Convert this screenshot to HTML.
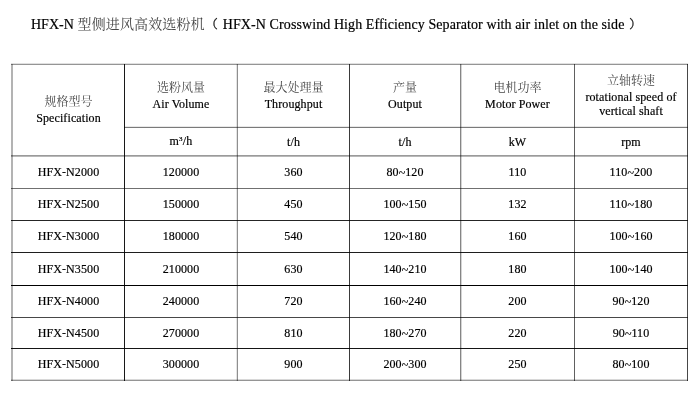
<!DOCTYPE html>
<html><head><meta charset="utf-8"><title>HFX-N</title>
<style>
html,body{margin:0;padding:0;background:#fff;}
body{width:700px;height:401px;position:relative;overflow:hidden;-webkit-text-stroke:0.18px #000;font-family:"Liberation Serif","Noto Serif CJK SC",serif;color:#000;}
.t{position:absolute;left:0;top:0;white-space:nowrap;font-size:14px;line-height:16px;}
.h,.v{position:absolute;mix-blend-mode:multiply;}
.c{position:absolute;display:flex;flex-direction:column;align-items:center;justify-content:center;font-size:12px;line-height:14px;text-align:center;letter-spacing:0.1px;}
.cj{font-family:"Noto Serif CJK SC",serif;color:#484848;font-weight:400;-webkit-text-stroke:0;}
.cc{font-family:"Noto Serif CJK SC",serif;color:#484848;font-size:12px;line-height:12px;height:12px;margin-bottom:4px;-webkit-text-stroke:0;letter-spacing:0;}
.t .cj{font-size:14px;}
.tl{position:relative;top:0.8px;}
</style></head><body>
<div class="t" style="left:31px;top:17px">HFX-N</div>
<div class="t cj" style="left:77.6px;top:15px;letter-spacing:0.12px">型侧进风高效选粉机</div>
<div class="t cj" style="left:205.8px;top:15.5px;font-size:12px;color:#222;-webkit-text-stroke:0.35px #222">（</div>
<div class="t" style="left:222.8px;top:17px;letter-spacing:0.09px">HFX-N Crosswind High Efficiency Separator with air inlet on the side</div>
<div class="t cj" style="left:629.3px;top:15.5px;font-size:12px;color:#222;-webkit-text-stroke:0.35px #222">）</div>
<div class="h" style="left:11px;top:63px;width:677px;height:1px;background:#e0e0e0"></div>
<div class="h" style="left:11px;top:64px;width:677px;height:1px;background:#959595"></div>
<div class="h" style="left:125px;top:126px;width:563px;height:1px;background:#e8e8e8"></div>
<div class="h" style="left:124px;top:127px;width:564px;height:1px;background:#7a7a7a"></div>
<div class="h" style="left:11px;top:155px;width:677px;height:1px;background:#9a9a9a"></div>
<div class="h" style="left:11px;top:156px;width:677px;height:1px;background:#b8b8b8"></div>
<div class="h" style="left:11px;top:188px;width:677px;height:1px;background:#707070"></div>
<div class="h" style="left:11px;top:220px;width:677px;height:1px;background:#252525"></div>
<div class="h" style="left:11px;top:252px;width:677px;height:1px;background:#1e1e1e"></div>
<div class="h" style="left:11px;top:285px;width:677px;height:1px;background:#000000"></div>
<div class="h" style="left:11px;top:317px;width:677px;height:1px;background:#484848"></div>
<div class="h" style="left:11px;top:348px;width:677px;height:1px;background:#151515"></div>
<div class="h" style="left:11px;top:379px;width:677px;height:1px;background:#d8d8d8"></div>
<div class="h" style="left:11px;top:380px;width:677px;height:1px;background:#959595"></div>
<div class="v" style="left:11px;top:64px;width:1px;height:317px;background:#b3b3b3"></div>
<div class="v" style="left:12px;top:64px;width:1px;height:317px;background:#b3b3b3"></div>
<div class="v" style="left:124px;top:64px;width:1px;height:317px;background:#181818"></div>
<div class="v" style="left:236px;top:64px;width:1px;height:317px;background:#e4e4e4"></div>
<div class="v" style="left:237px;top:64px;width:1px;height:317px;background:#8f8f8f"></div>
<div class="v" style="left:349px;top:64px;width:1px;height:317px;background:#3a3a3a"></div>
<div class="v" style="left:460px;top:64px;width:1px;height:317px;background:#858585"></div>
<div class="v" style="left:461px;top:64px;width:1px;height:317px;background:#d4d4d4"></div>
<div class="v" style="left:574px;top:64px;width:1px;height:317px;background:#606060"></div>
<div class="v" style="left:687px;top:64px;width:1px;height:317px;background:#484848"></div>
<div class="c" style="left:13px;top:64.5px;width:111px;height:91.0px"><div class="cc">规格型号</div><div>Specification</div></div>
<div class="c" style="left:125px;top:64.5px;width:112px;height:62.5px"><div class="cc">选粉风量</div><div>Air Volume</div></div>
<div class="c" style="left:238px;top:64.5px;width:111px;height:62.5px"><div class="cc">最大处理量</div><div>Throughput</div></div>
<div class="c" style="left:350px;top:64.5px;width:110px;height:62.5px"><div class="cc">产量</div><div>Output</div></div>
<div class="c" style="left:461px;top:64.5px;width:113px;height:62.5px"><div class="cc">电机功率</div><div>Motor Power</div></div>
<div class="c" style="left:575px;top:64.5px;width:112px;height:62.5px"><div class="cc">立轴转速</div><div>rotational speed of</div><div>vertical shaft</div></div>
<div class="c" style="left:125px;top:127.5px;width:112px;height:28.0px"><div>m<span style="font-size:7px;position:relative;top:-3.6px;letter-spacing:0.3px">3</span>/h</div></div>
<div class="c" style="left:238px;top:127.5px;width:111px;height:28.0px"><div>t/h</div></div>
<div class="c" style="left:350px;top:127.5px;width:110px;height:28.0px"><div>t/h</div></div>
<div class="c" style="left:461px;top:127.5px;width:113px;height:28.0px"><div>kW</div></div>
<div class="c" style="left:575px;top:127.5px;width:112px;height:28.0px"><div>rpm</div></div>
<div class="c" style="left:13px;top:156.0px;width:111px;height:32.0px"><div>HFX-N2000</div></div>
<div class="c" style="left:125px;top:156.0px;width:112px;height:32.0px"><div>120000</div></div>
<div class="c" style="left:238px;top:156.0px;width:111px;height:32.0px"><div>360</div></div>
<div class="c" style="left:350px;top:156.0px;width:110px;height:32.0px"><div>80<span class="tl">~</span>120</div></div>
<div class="c" style="left:461px;top:156.0px;width:113px;height:32.0px"><div>110</div></div>
<div class="c" style="left:575px;top:156.0px;width:112px;height:32.0px"><div>110<span class="tl">~</span>200</div></div>
<div class="c" style="left:13px;top:188.5px;width:111px;height:31.5px"><div>HFX-N2500</div></div>
<div class="c" style="left:125px;top:188.5px;width:112px;height:31.5px"><div>150000</div></div>
<div class="c" style="left:238px;top:188.5px;width:111px;height:31.5px"><div>450</div></div>
<div class="c" style="left:350px;top:188.5px;width:110px;height:31.5px"><div>100<span class="tl">~</span>150</div></div>
<div class="c" style="left:461px;top:188.5px;width:113px;height:31.5px"><div>132</div></div>
<div class="c" style="left:575px;top:188.5px;width:112px;height:31.5px"><div>110<span class="tl">~</span>180</div></div>
<div class="c" style="left:13px;top:220.5px;width:111px;height:31.5px"><div>HFX-N3000</div></div>
<div class="c" style="left:125px;top:220.5px;width:112px;height:31.5px"><div>180000</div></div>
<div class="c" style="left:238px;top:220.5px;width:111px;height:31.5px"><div>540</div></div>
<div class="c" style="left:350px;top:220.5px;width:110px;height:31.5px"><div>120<span class="tl">~</span>180</div></div>
<div class="c" style="left:461px;top:220.5px;width:113px;height:31.5px"><div>160</div></div>
<div class="c" style="left:575px;top:220.5px;width:112px;height:31.5px"><div>100<span class="tl">~</span>160</div></div>
<div class="c" style="left:13px;top:252.5px;width:111px;height:32.5px"><div>HFX-N3500</div></div>
<div class="c" style="left:125px;top:252.5px;width:112px;height:32.5px"><div>210000</div></div>
<div class="c" style="left:238px;top:252.5px;width:111px;height:32.5px"><div>630</div></div>
<div class="c" style="left:350px;top:252.5px;width:110px;height:32.5px"><div>140<span class="tl">~</span>210</div></div>
<div class="c" style="left:461px;top:252.5px;width:113px;height:32.5px"><div>180</div></div>
<div class="c" style="left:575px;top:252.5px;width:112px;height:32.5px"><div>100<span class="tl">~</span>140</div></div>
<div class="c" style="left:13px;top:285.5px;width:111px;height:31.5px"><div>HFX-N4000</div></div>
<div class="c" style="left:125px;top:285.5px;width:112px;height:31.5px"><div>240000</div></div>
<div class="c" style="left:238px;top:285.5px;width:111px;height:31.5px"><div>720</div></div>
<div class="c" style="left:350px;top:285.5px;width:110px;height:31.5px"><div>160<span class="tl">~</span>240</div></div>
<div class="c" style="left:461px;top:285.5px;width:113px;height:31.5px"><div>200</div></div>
<div class="c" style="left:575px;top:285.5px;width:112px;height:31.5px"><div>90<span class="tl">~</span>120</div></div>
<div class="c" style="left:13px;top:317.5px;width:111px;height:30.5px"><div>HFX-N4500</div></div>
<div class="c" style="left:125px;top:317.5px;width:112px;height:30.5px"><div>270000</div></div>
<div class="c" style="left:238px;top:317.5px;width:111px;height:30.5px"><div>810</div></div>
<div class="c" style="left:350px;top:317.5px;width:110px;height:30.5px"><div>180<span class="tl">~</span>270</div></div>
<div class="c" style="left:461px;top:317.5px;width:113px;height:30.5px"><div>220</div></div>
<div class="c" style="left:575px;top:317.5px;width:112px;height:30.5px"><div>90<span class="tl">~</span>110</div></div>
<div class="c" style="left:13px;top:348.5px;width:111px;height:31.5px"><div>HFX-N5000</div></div>
<div class="c" style="left:125px;top:348.5px;width:112px;height:31.5px"><div>300000</div></div>
<div class="c" style="left:238px;top:348.5px;width:111px;height:31.5px"><div>900</div></div>
<div class="c" style="left:350px;top:348.5px;width:110px;height:31.5px"><div>200<span class="tl">~</span>300</div></div>
<div class="c" style="left:461px;top:348.5px;width:113px;height:31.5px"><div>250</div></div>
<div class="c" style="left:575px;top:348.5px;width:112px;height:31.5px"><div>80<span class="tl">~</span>100</div></div>
</body></html>
